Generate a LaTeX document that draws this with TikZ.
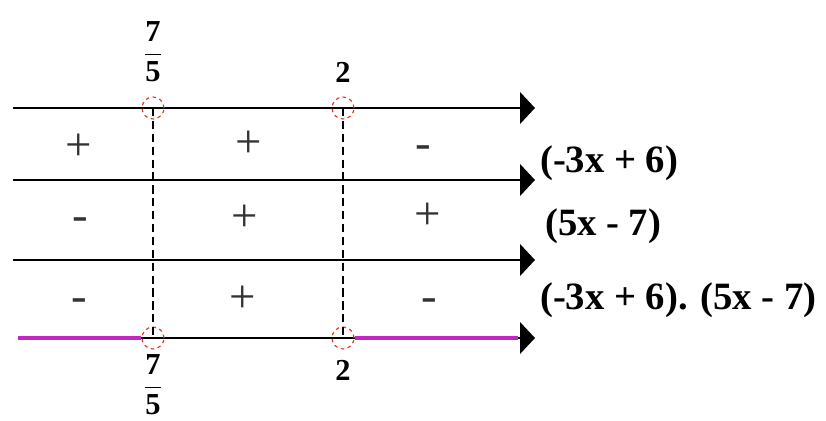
\documentclass[tikz,border=0pt]{standalone}
\usepackage{fontspec}
\setmainfont{Liberation Serif}
\usetikzlibrary{arrows.meta}
\definecolor{solmagenta}{RGB}{192,40,192}
\begin{document}
\begin{tikzpicture}[x=0.03cm, y=-0.03cm,
    axis/.style={line width=1.6pt, -{Triangle[length=0.45cm, width=0.95cm]}},
    guide/.style={dash pattern=on 7pt off 4pt, line width=1pt},
    hole/.style={circle, draw=red!55!brown, dashed, line width=1pt, minimum size=0.66cm, inner sep=0pt},
    sign/.style={font=\fontsize{40}{46}\selectfont, text=black!80, anchor=base},
    val/.style={font=\bfseries\fontsize{26}{30}\selectfont},
    expr/.style={font=\bfseries\fontsize{33}{38}\selectfont, anchor=west},
    sol/.style={solmagenta, line width=3.6pt}]
    \useasboundingbox (0, 0) rectangle (826, 421);

    % Axes
    \foreach \name/\x/\y in {a/13/108, b/13/180, c/13/260, d/18/338} {
        \coordinate (\name L) at (\x, \y);
        \coordinate (\name R) at (535, \y);
    }
    \foreach \name in {a, b, c, d} {
        \draw[axis] (\name L) -- (\name R);
    }

    % Holes
    \node[hole] (ha) at (153, 108) {};
    \node[hole] (hb) at (343, 108) {};
    \node[hole] (hc) at (153, 338) {};
    \node[hole] (hd) at (343, 338) {};

    % Solution set
    \draw[sol] (dL) -- (hc.west);
    \draw[sol] (hd.east) -- (518, 338);

    % Guides
    \draw[guide] (ha.center) -- (hc.center);
    \draw[guide] (hb.center) -- (hd.center);

    % Values
    \node[val] (ta) at (153, 52) {$\displaystyle\frac{\textbf{7}}{\textbf{5}}$};
    \node[val] (tb) at (343, 72) {2};
    \node[val] (tc) at (153, 385) {$\displaystyle\frac{\textbf{7}}{\textbf{5}}$};
    \node[val] (td) at (343, 370) {2};

    % Signs (baseline about 12 below centre)
    \node[sign] (s11) at (79, 160) {+};
    \node[sign] (s12) at (249, 157) {+};
    \node[sign] (s13) at (423, 158) {-};
    \node[sign] (s21) at (80, 230) {-};
    \node[sign] (s22) at (245, 231) {+};
    \node[sign] (s23) at (428, 229) {+};
    \node[sign] (s31) at (79, 311) {-};
    \node[sign] (s32) at (243, 312) {+};
    \node[sign] (s33) at (429, 311) {-};

    % Expressions
    \node[expr] (e1) at (536, 163) {(-3x + 6)};
    \node[expr] (e2) at (541, 226) {(5x - 7)};
    \node[expr] (e3) at (536, 300) {(-3x + 6). (5x - 7)};
\end{tikzpicture}
\end{document}
